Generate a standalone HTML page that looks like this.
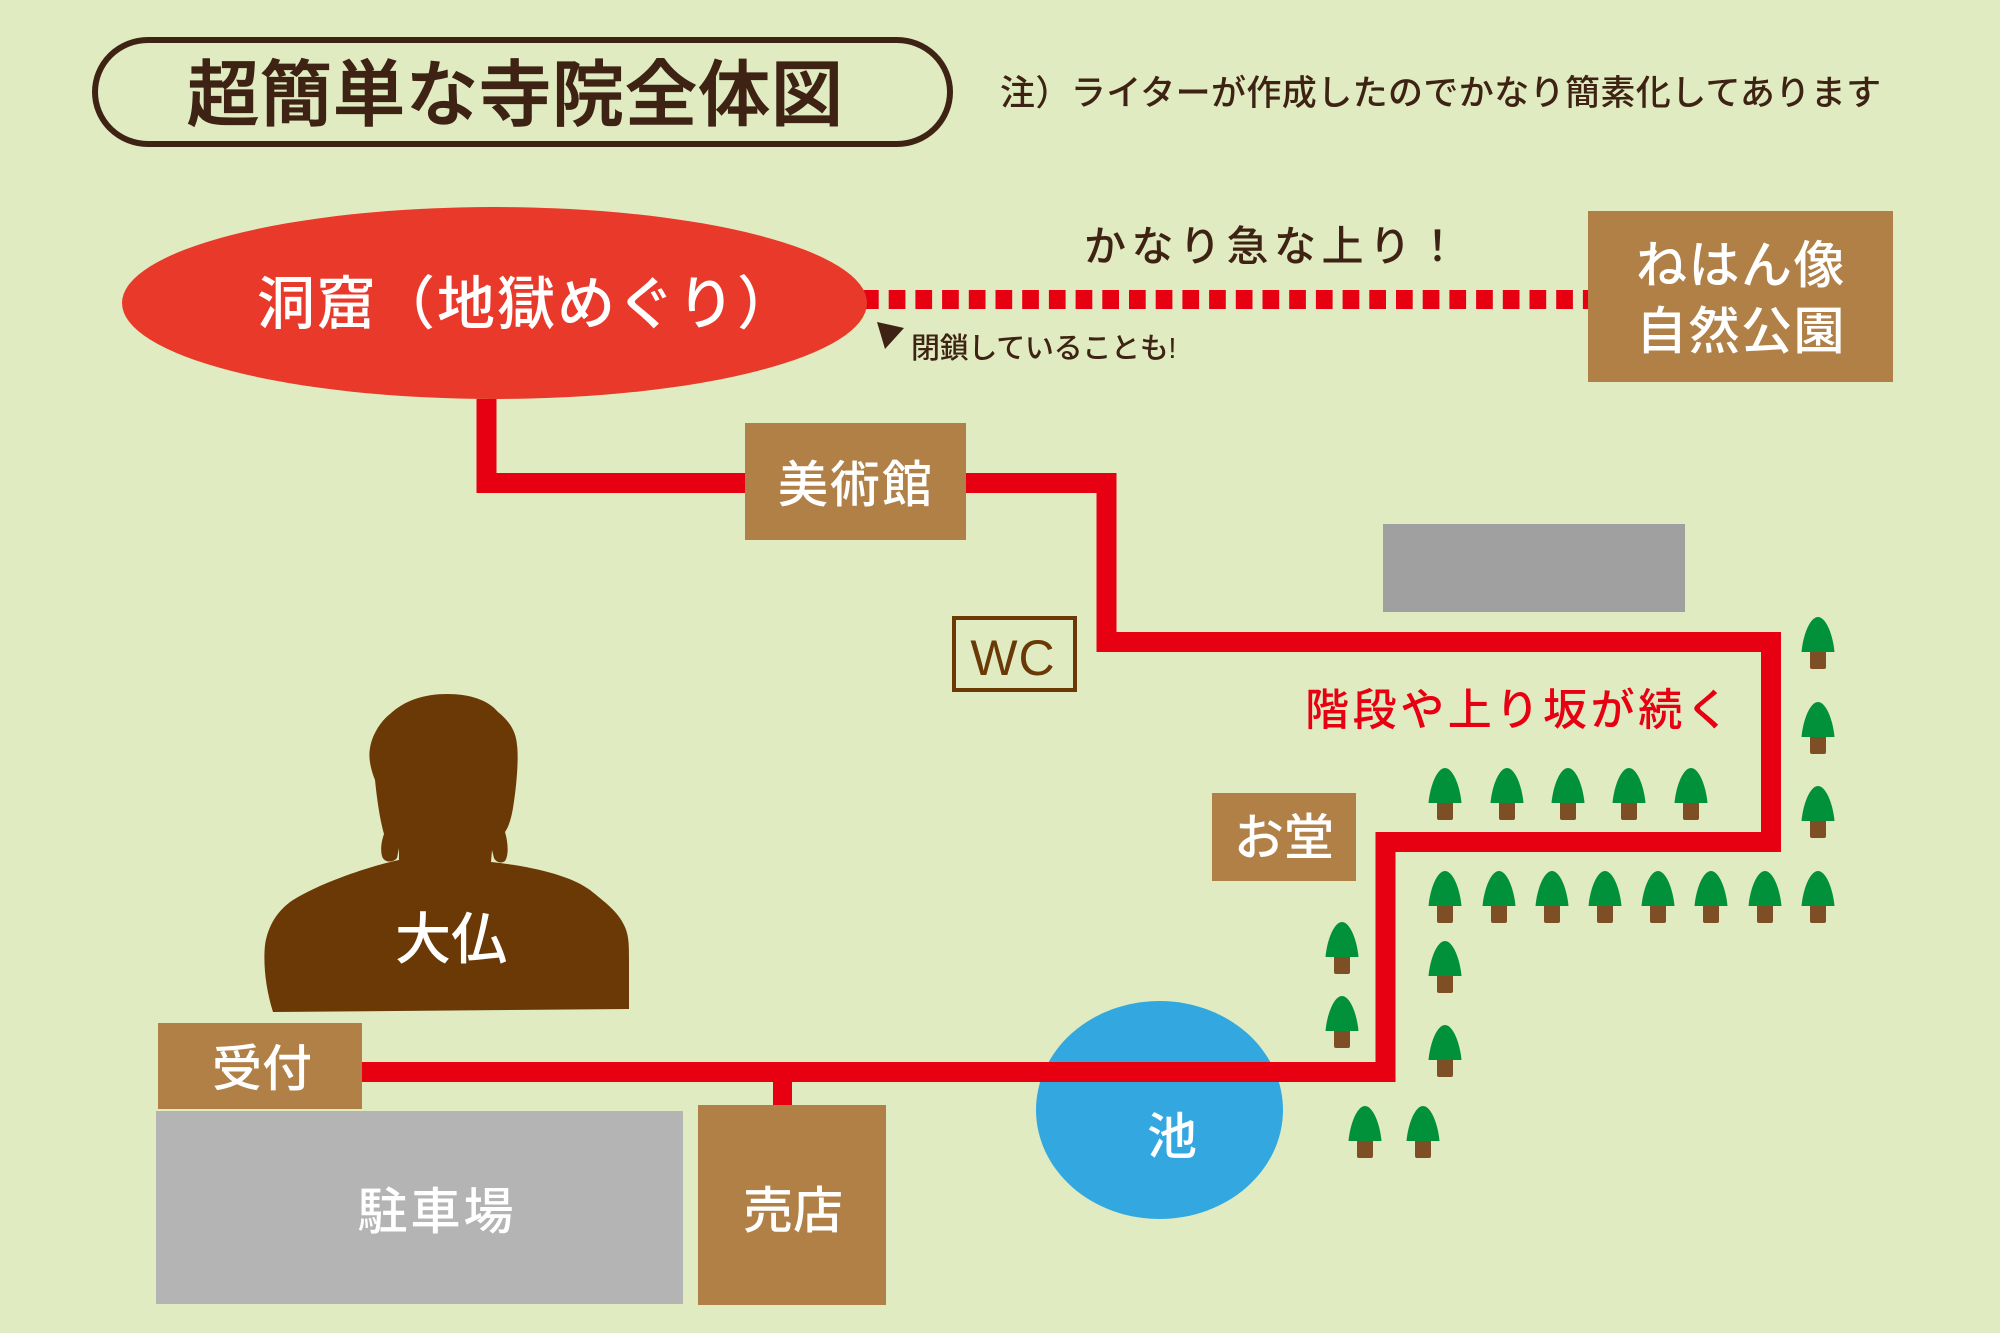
<!DOCTYPE html>
<html lang="ja">
<head>
<meta charset="utf-8">
<style>
  html,body{margin:0;padding:0;background:#e0ebc1;}
  svg{display:block;}
  text{font-family:"Liberation Sans","Noto Sans CJK JP",sans-serif;}
</style>
</head>
<body>
<svg xmlns="http://www.w3.org/2000/svg" width="2000" height="1333" viewBox="0 0 2000 1333">
  <defs>
    <g id="tree">
      <rect x="-8" y="33" width="16" height="19" rx="2" fill="#7e4f24"/>
      <path d="M-16.5,35 C-15,18 -8,0 0,0 C8,0 15,18 16.5,35 Z" fill="#00913a"/>
    </g>
  </defs>
  <rect x="0" y="0" width="2000" height="1333" fill="#e0ebc1"/>

  <!-- Title -->
  <rect x="95" y="40" width="855" height="104" rx="53" ry="53" fill="none" stroke="#3e2314" stroke-width="6"/>
  <text x="187" y="120" font-size="72" font-weight="500" fill="#3e2314" stroke="#3e2314" stroke-width="1.2" letter-spacing="1">超簡単な寺院全体図</text>

  <!-- Note -->
  <text x="1000" y="105" font-size="35" font-weight="500" fill="#3e2314" letter-spacing="0.4">注）ライターが作成したのでかなり簡素化してあります</text>

  <!-- dashed steep path -->
  <line x1="862" y1="299.5" x2="1590" y2="299.5" stroke="#e60012" stroke-width="19" stroke-dasharray="16.7 10"/>

  <!-- Cave ellipse -->
  <ellipse cx="494.5" cy="303" rx="372.5" ry="96" fill="#e8392a"/>
  <text x="257" y="324" font-size="58" font-weight="500" fill="#ffffff" letter-spacing="2">洞窟（地獄めぐり）</text>

  <!-- closed note -->
  <polygon points="877,322 904,328 885,349" fill="#3e2314"/>
  <text x="911" y="358" font-size="29" font-weight="500" fill="#3e2314" letter-spacing="-0.3">閉鎖していることも!</text>

  <!-- steep climb label -->
  <text x="1084" y="261" font-size="42" font-weight="500" fill="#3e2314" letter-spacing="5.5">かなり急な上り！</text>

  <!-- Nehan box -->
  <rect x="1588" y="211" width="305" height="171" fill="#b08047"/>
  <text x="1741" y="283" font-size="51" font-weight="500" fill="#ffffff" text-anchor="middle" letter-spacing="1.5">ねはん像</text>
  <text x="1741" y="349" font-size="51" font-weight="500" fill="#ffffff" text-anchor="middle" letter-spacing="1.5">自然公園</text>

  <!-- Gray building -->
  <rect x="1383" y="524" width="302" height="88" fill="#a0a0a0"/>

  <!-- Pond -->
  <ellipse cx="1159.5" cy="1110" rx="123.5" ry="109" fill="#33a8e0"/>
  <text x="1172" y="1154" font-size="50" font-weight="500" fill="#ffffff" text-anchor="middle">池</text>

  <!-- Red route -->
  <polyline points="486.5,399 486.5,483 1106.5,483 1106.5,642 1771,642 1771,842 1385.5,842 1385.5,1072 362,1072"
            fill="none" stroke="#e60012" stroke-width="20" stroke-linejoin="miter"/>
  <line x1="782.5" y1="1072" x2="782.5" y2="1108" stroke="#e60012" stroke-width="19"/>

  <!-- Art museum -->
  <rect x="745" y="423" width="221" height="117" fill="#b08047"/>
  <text x="856" y="502" font-size="50" font-weight="500" fill="#ffffff" text-anchor="middle" letter-spacing="2">美術館</text>

  <!-- WC -->
  <rect x="954" y="618" width="121" height="72" fill="none" stroke="#6a3906" stroke-width="4"/>
  <text x="1013" y="675" font-family="Liberation Sans, sans-serif" font-size="50" fill="#6a3906" text-anchor="middle" letter-spacing="1">WC</text>

  <!-- stairs label -->
  <text x="1305" y="725" font-size="44" font-weight="500" fill="#e60012" letter-spacing="3.6">階段や上り坂が続く</text>

  <!-- O-do -->
  <rect x="1212" y="793" width="144" height="88" fill="#b08047"/>
  <text x="1284" y="855" font-size="50" font-weight="500" fill="#ffffff" text-anchor="middle">お堂</text>

  <!-- Trees -->
  <use href="#tree" x="1818" y="617"/>
  <use href="#tree" x="1818" y="702"/>
  <use href="#tree" x="1818" y="786"/>

  <use href="#tree" x="1445" y="768"/>
  <use href="#tree" x="1507" y="768"/>
  <use href="#tree" x="1568" y="768"/>
  <use href="#tree" x="1629" y="768"/>
  <use href="#tree" x="1691" y="768"/>

  <use href="#tree" x="1445" y="871"/>
  <use href="#tree" x="1499" y="871"/>
  <use href="#tree" x="1552" y="871"/>
  <use href="#tree" x="1605" y="871"/>
  <use href="#tree" x="1658" y="871"/>
  <use href="#tree" x="1711" y="871"/>
  <use href="#tree" x="1765" y="871"/>
  <use href="#tree" x="1818" y="871"/>

  <use href="#tree" x="1342" y="922"/>
  <use href="#tree" x="1342" y="996"/>
  <use href="#tree" x="1445" y="941"/>
  <use href="#tree" x="1445" y="1025"/>

  <use href="#tree" x="1365" y="1106"/>
  <use href="#tree" x="1423" y="1106"/>

  <!-- Great Buddha silhouette -->
  <path d="M447,694
           C470,694 488,700 498,712
           C508,720 516,730 517,745
           C519,760 516,790 513,808
           C511,820 508,828 505,832
           C508,842 509,855 505,861
           C501,864 496,862 494,858
           L492,850 L491,862
           C530,866 570,875 590,890
           C605,902 618,912 624,925
           C629,935 629,945 629,960
           L629,1009 L273,1012
           C266,990 263,965 265,945
           C268,925 278,910 293,900
           C320,883 370,866 399,860
           L399,848 L397,858
           C393,863 384,863 382,856
           C380,848 382,840 384,834
           C380,820 377,800 375,780
           C371,770 368,758 370,748
           C372,735 380,722 390,714
           C405,700 425,694 447,694 Z" fill="#6a3906"/>
  <text x="451" y="959" font-size="56" font-weight="500" fill="#ffffff" text-anchor="middle">大仏</text>

  <!-- Reception -->
  <rect x="158" y="1023" width="204" height="86" fill="#b08047"/>
  <text x="262" y="1086" font-size="50" font-weight="500" fill="#ffffff" text-anchor="middle">受付</text>

  <!-- Parking -->
  <rect x="156" y="1111" width="527" height="193" fill="#b4b4b4"/>
  <text x="437" y="1229" font-size="50" font-weight="500" fill="#ffffff" text-anchor="middle" letter-spacing="3">駐車場</text>

  <!-- Shop -->
  <rect x="698" y="1105" width="188" height="200" fill="#b08047"/>
  <text x="793" y="1228" font-size="50" font-weight="500" fill="#ffffff" text-anchor="middle">売店</text>
</svg>
</body>
</html>
